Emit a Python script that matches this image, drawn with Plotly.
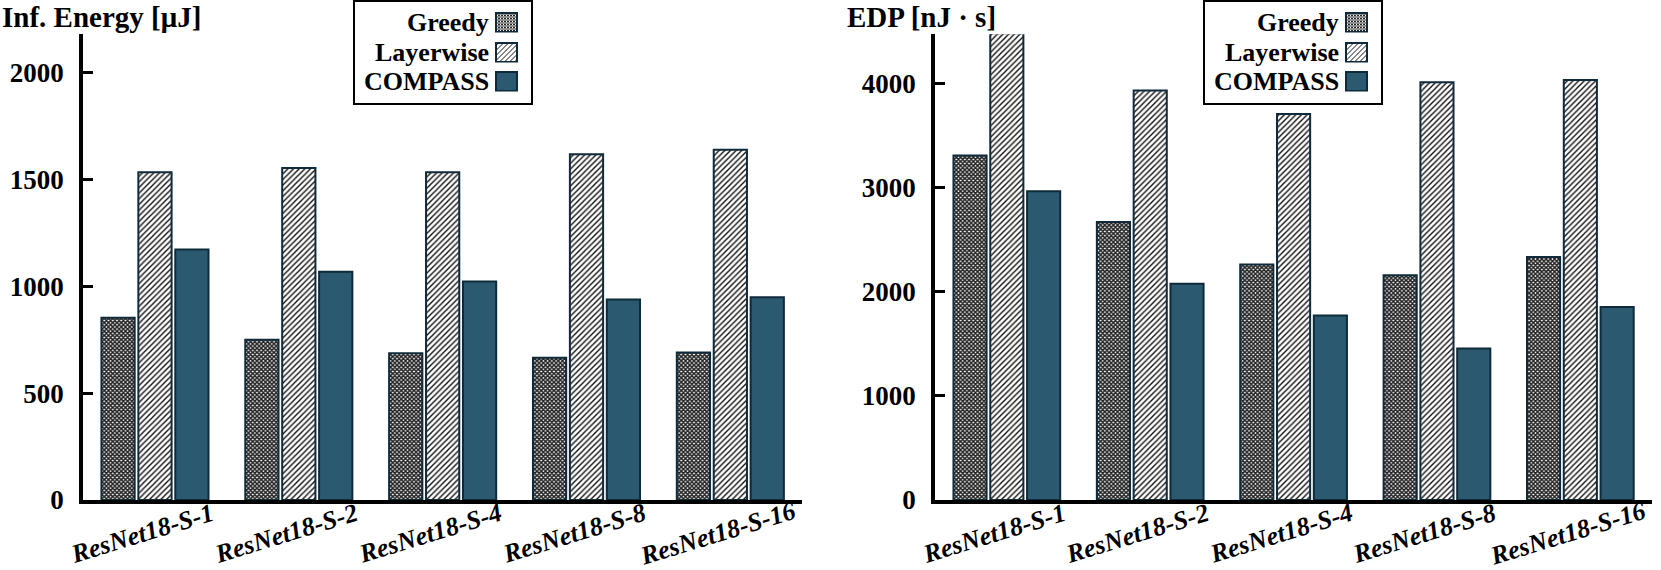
import base64
import plotly.graph_objects as go

categories = ["ResNet18-S-1", "ResNet18-S-2", "ResNet18-S-4", "ResNet18-S-8", "ResNet18-S-16"]
series_names = ["Greedy", "Layerwise", "COMPASS"]

energy_greedy = [852, 749, 686, 665, 690]
energy_layerwise = [1532, 1552, 1532, 1617, 1638]
energy_compass = [1171, 1067, 1022, 938, 948]

edp_greedy = [3305, 2667, 2260, 2158, 2331]
edp_layerwise = [4478, 3929, 3705, 4010, 4031]
edp_compass = [2962, 2076, 1771, 1455, 1852]

energy_ticks = [0, 500, 1000, 1500, 2000]
edp_ticks = [0, 1000, 2000, 3000, 4000]

W, H = 1661, 570
FONT = "Liberation Serif"
EDGE = "#0f2a3a"
COMPASS_COLOR = "#2b5a70"

styles = {
    "Greedy": dict(color="white", pattern=dict(shape="x", size=3, solidity=0.75, fgcolor="#222222", bgcolor="white", fillmode="replace")),
    "Layerwise": dict(color="white", pattern=dict(shape="/", size=4, solidity=0.35, fgcolor="#111111", bgcolor="white", fillmode="replace")),
    "COMPASS": dict(color=COMPASS_COLOR),
}

fig = go.Figure()

left = [energy_greedy, energy_layerwise, energy_compass]
right = [edp_greedy, edp_layerwise, edp_compass]

for name, vals in zip(series_names, left):
    fig.add_trace(go.Bar(x=categories, y=vals, name=name, xaxis="x", yaxis="y",
                         showlegend=False,
                         marker=dict(line=dict(color=EDGE, width=2), **styles[name])))
for name, vals in zip(series_names, right):
    fig.add_trace(go.Bar(x=categories, y=vals, name=name, xaxis="x2", yaxis="y2",
                         showlegend=False,
                         marker=dict(line=dict(color=EDGE, width=2), **styles[name])))

tickfont = dict(family=FONT, size=27, color="black", weight="bold")
xaxis_common = dict(showline=True, linecolor="black", linewidth=4, ticks="",
                    showticklabels=False, showgrid=False, zeroline=False,
                    range=[-0.5, 4.5], type="category")
yaxis_common = dict(showline=True, linecolor="black", linewidth=4, ticks="inside",
                    ticklen=10, tickwidth=3, tickcolor="black", showgrid=False,
                    zeroline=False, tickfont=tickfont, ticklabelstandoff=10)

fig.update_layout(
    width=W, height=H,
    margin=dict(l=0, r=0, t=0, b=0, autoexpand=False),
    paper_bgcolor="white", plot_bgcolor="white",
    barmode="group", bargap=0.23, bargroupgap=0.1,
    xaxis=dict(domain=[0.050, 0.483], anchor="y", **xaxis_common),
    yaxis=dict(domain=[0.1228, 0.940], anchor="x", range=[0, 2178],
               tickvals=energy_ticks, **yaxis_common),
    xaxis2=dict(domain=[0.563, 0.9946], anchor="y2", **xaxis_common),
    yaxis2=dict(domain=[0.1228, 0.940], anchor="x2", range=[0, 4470],
                tickvals=edp_ticks, **yaxis_common),
    showlegend=False,
)

# ---- custom legends (text right-aligned, swatch on the right) ----
def svg_uri(fill_def, fill):
    svg = ('<svg xmlns="http://www.w3.org/2000/svg" width="23" height="21" viewBox="0 0 23 21" '
           'shape-rendering="crispEdges"><defs>' + fill_def + '</defs>'
           '<rect x="1" y="1" width="21" height="19" fill="' + fill + '" stroke="' + EDGE +
           '" stroke-width="2"/></svg>')
    return "data:image/svg+xml;base64," + base64.b64encode(svg.encode()).decode()

swatches = {
    "Greedy": svg_uri('<pattern id="c" width="3" height="3" patternUnits="userSpaceOnUse">'
                      '<rect width="3" height="3" fill="white"/><rect width="1.5" height="1.5" fill="#222"/>'
                      '<rect x="1.5" y="1.5" width="1.5" height="1.5" fill="#222"/></pattern>', "url(#c)"),
    "Layerwise": svg_uri('<pattern id="d" width="5" height="5" patternUnits="userSpaceOnUse">'
                         '<rect width="5" height="5" fill="white"/>'
                         '<path d="M0,5 L5,0 M-1,1 L1,-1 M4,6 L6,4" stroke="#111" stroke-width="1.3"/>'
                         '</pattern>', "url(#d)"),
    "COMPASS": svg_uri("", COMPASS_COLOR),
}

legend_boxes = [(354, 532), (1204, 1382)]   # left/right pixel edges of each legend box
legend_top, legend_bottom = 1, 104
entry_centers = [22, 52, 81]
sw_w, sw_h = 23, 21

shapes = []
images = []
annotations = []
legend_font = dict(family=FONT, size=26, color="black", weight="bold")
for bx0, bx1 in legend_boxes:
    shapes.append(dict(type="rect", xref="paper", yref="paper",
                       x0=bx0 / W, x1=bx1 / W, y0=1 - legend_bottom / H, y1=1 - legend_top / H,
                       line=dict(color="black", width=2), fillcolor="rgba(0,0,0,0)", layer="above"))
    sw_x = bx1 - 14 - sw_w
    for name, cy in zip(series_names, entry_centers):
        images.append(dict(source=swatches[name], xref="paper", yref="paper",
                           x=sw_x / W, y=1 - (cy - sw_h / 2) / H,
                           sizex=sw_w / W, sizey=sw_h / H, sizing="stretch",
                           xanchor="left", yanchor="top", layer="above"))
        annotations.append(dict(text=name, x=(sw_x - 4) / W, y=1 - cy / H,
                                xref="paper", yref="paper", xanchor="right",
                                yanchor="middle", showarrow=False, font=legend_font))

title_font = dict(family=FONT, size=29, color="black", weight="bold")
annotations += [
    dict(text="Inf. Energy [μJ]", x=0.0, y=1.0, xref="paper", yref="paper",
         xanchor="left", yanchor="top", xshift=0, yshift=1, showarrow=False,
         font=title_font),
    dict(text="EDP [nJ · s]", x=0.509, y=1.0, xref="paper", yref="paper",
         xanchor="left", yanchor="top", xshift=0, yshift=1, showarrow=False,
         font=title_font),
]
for xr in ["x", "x2"]:
    for c in categories:
        annotations.append(dict(text=c, x=c, xref=xr, y=0.064, yref="paper",
                                xanchor="center", yanchor="middle", xshift=-13,
                                textangle=-17, showarrow=False,
                                font=dict(family=FONT, size=26, color="black",
                                          weight="bold", style="italic")))
fig.update_layout(annotations=annotations, shapes=shapes, images=images)

fig.write_html("out.html", config={"displayModeBar": False},
               post_script="document.body.style.margin='0';document.body.style.padding='0';")
